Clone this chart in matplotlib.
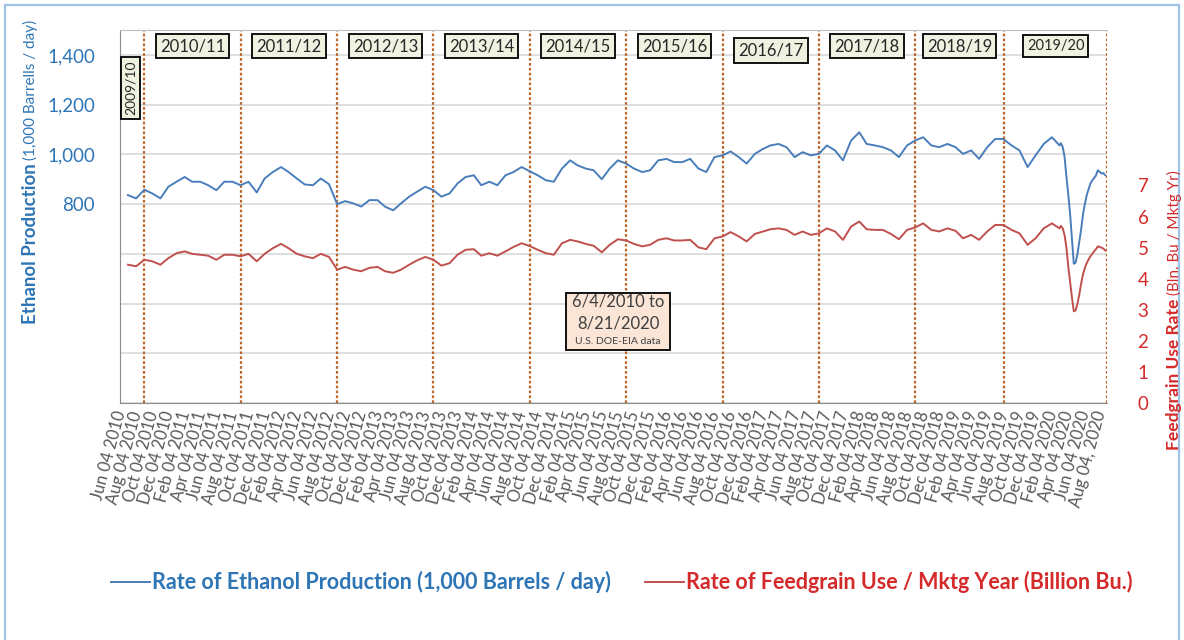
# Ethanol production vs feedgrain use rate, weekly EIA data 2010-2020

import numpy as np
import pandas as pd
import matplotlib
matplotlib.use('Agg')
import matplotlib.pyplot as plt
from matplotlib.patches import Rectangle

plt.rcParams['font.family'] = ['Lato', 'DejaVu Sans']

# monthly readings Jun 2010 .. Feb 2020
ethanol_monthly = [
    836, 823, 858, 843, 823, 870, 890,                                 # 2010 Jun-Dec
    909, 890, 890, 876, 856, 890, 890, 876, 890, 847, 903, 929,        # 2011
    949, 929, 903, 879, 876, 903, 880, 800, 812, 803, 790, 816,        # 2012
    816, 790, 775, 803, 830, 850, 870, 856, 830, 843, 883, 909,        # 2013
    916, 876, 890, 876, 916, 929, 949, 932, 916, 896, 890, 943,        # 2014
    976, 956, 943, 936, 900, 943, 976, 963, 943, 929, 936, 976,        # 2015
    982, 969, 969, 982, 943, 929, 989, 996, 1012, 989, 963, 1002,      # 2016
    1022, 1036, 1042, 1029, 989, 1009, 996, 1002, 1036, 1016, 976, 1056,  # 2017
    1089, 1042, 1036, 1029, 1016, 989, 1036, 1056, 1069, 1036, 1029, 1042,  # 2018
    1029, 1002, 1016, 982, 1029, 1062, 1062, 1036, 1016, 949, 996, 1042,    # 2019
    1069, 1036,                                                        # 2020 Jan-Feb
]
feedgrain_monthly = [
    4.45, 4.40, 4.61, 4.56, 4.45, 4.66, 4.82,
    4.88, 4.80, 4.77, 4.74, 4.61, 4.77, 4.77, 4.72, 4.80, 4.56, 4.80, 4.98,
    5.12, 4.98, 4.80, 4.72, 4.66, 4.80, 4.70, 4.29, 4.38, 4.29, 4.24, 4.35,
    4.38, 4.24, 4.19, 4.29, 4.45, 4.59, 4.70, 4.61, 4.42, 4.50, 4.77, 4.93,
    4.95, 4.74, 4.82, 4.74, 4.88, 5.02, 5.14, 5.05, 4.93, 4.82, 4.77, 5.14,
    5.25, 5.20, 5.12, 5.06, 4.85, 5.09, 5.27, 5.23, 5.12, 5.04, 5.09, 5.25,
    5.30, 5.23, 5.23, 5.25, 5.01, 4.95, 5.30, 5.36, 5.50, 5.36, 5.20, 5.44,
    5.52, 5.59, 5.62, 5.57, 5.41, 5.52, 5.41, 5.46, 5.62, 5.52, 5.25, 5.68,
    5.84, 5.59, 5.57, 5.57, 5.44, 5.27, 5.57, 5.65, 5.78, 5.57, 5.52, 5.62,
    5.54, 5.30, 5.41, 5.25, 5.52, 5.73, 5.73, 5.57, 5.46, 5.09, 5.30, 5.62,
    5.78, 5.62,
]
# weekly readings through the 2020 drop, Mar 6 .. Aug 21 2020
ethanol_2020 = [1045, 1030, 990, 910, 840, 760, 660, 560, 565, 600, 650, 700, 760,
                800, 836, 860, 883, 895, 905, 915, 936, 930, 923, 925, 916]
feedgrain_2020 = [5.70, 5.62, 5.40, 5.00, 4.40, 3.90, 3.40, 2.95, 2.98, 3.20, 3.50, 3.85, 4.15,
                  4.35, 4.50, 4.62, 4.72, 4.80, 4.88, 4.95, 5.04, 5.02, 5.00, 4.97, 4.91]

monthly_dates = pd.date_range('2010-06-04', periods=len(ethanol_monthly), freq='MS')
monthly_dates = monthly_dates.where(monthly_dates > pd.Timestamp('2010-06-04'), pd.Timestamp('2010-06-04'))
weekly_dates = pd.date_range('2020-03-06', '2020-08-21', freq='7D')
dates = monthly_dates.append(weekly_dates)
ethanol = np.array(ethanol_monthly + ethanol_2020)
feedgrain = np.array(feedgrain_monthly + feedgrain_2020)

# marketing year boundaries and labels
year_starts = pd.to_datetime(['2010-09-01', '2011-09-01', '2012-09-01', '2013-09-01', '2014-09-01',
                              '2015-09-01', '2016-09-01', '2017-09-01', '2018-09-01', '2019-08-04',
                              '2020-08-28'])
year_labels = ['2010/11', '2011/12', '2012/13', '2013/14', '2014/15',
               '2015/16', '2016/17', '2017/18', '2018/19', '2019/20']

left_ticks = [0, 200, 400, 600, 800, 1000, 1200, 1400]
left_labels = ['', '', '', '', '800', '1,000', '1,200', '1,400']
right_ticks = [0, 1, 2, 3, 4, 5, 6, 7]

blue = '#4a7ebb'
red = '#c0504d'
blue_txt = '#2e75b6'
red_txt = '#d42a2a'
brown = '#c0652a'

fig = plt.figure(figsize=(11.84, 6.4), dpi=100)
ax = fig.add_axes([0.1014, 0.3703, 0.8336, 0.5827])
ax2 = ax.twinx()

l1, = ax.plot(dates, ethanol, color=blue, lw=1.4, zorder=4)
l2, = ax2.plot(dates, feedgrain, color=red, lw=1.4, zorder=4)

for d in year_starts:
    ax.axvline(d, color=brown, ls=(0, (1.2, 1.0)), lw=1.6, zorder=2)

ax.set_xlim(pd.Timestamp('2010-06-01'), year_starts[-1])
ax.set_ylim(0, 1500)
ax2.set_ylim(0, 12)

ax.set_yticks(left_ticks)
ax.set_yticklabels(left_labels)
ax.tick_params(axis='y', length=0, labelsize=13.5, labelcolor=blue_txt, pad=18)
ax2.set_yticks(right_ticks)
ax2.tick_params(axis='y', length=0, labelsize=13.5, labelcolor=red_txt, pad=22)
ax.yaxis.grid(True, color='#d9d9d9', lw=1.2)
ax.set_axisbelow(True)

xticks = pd.date_range('2010-06-04', '2020-08-04', freq=pd.DateOffset(months=2))
xlabels = [d.strftime('%b %d %Y') for d in xticks]
xlabels[-1] = 'Aug 04, 2020'
ax.set_xticks(xticks)
ax.set_xticklabels(xlabels, rotation=75, ha='right', va='center', rotation_mode='anchor')
ax.tick_params(axis='x', length=0, labelsize=12, labelcolor='#595959', pad=6)

for s in ['left', 'bottom']:
    ax.spines[s].set_color('#8c8c8c')
ax.spines['top'].set_color('#bfbfbf')
for a in (ax, ax2):
    a.spines['right'].set_visible(False)
ax2.spines['left'].set_visible(False)
ax2.spines['top'].set_visible(False)
ax2.spines['bottom'].set_visible(False)

# marketing year boxes
box = dict(boxstyle='square,pad=0.25', fc='#eef2e0', ec='black', lw=1.3)
for i, lab in enumerate(year_labels):
    mid = year_starts[i] + (year_starts[i + 1] - year_starts[i]) / 2
    fs = 10.5 if lab == '2019/20' else 12
    yy = 0.945 if lab == '2016/17' else 0.957
    ax.text(mid, yy, lab, transform=ax.get_xaxis_transform(), ha='center', va='center',
            fontsize=fs, color='#262626', bbox=box, zorder=6)
ax.text(0.0105, 0.845, '2009/10', transform=ax.transAxes, rotation=90, ha='center', va='center',
        fontsize=10, color='#262626', bbox=box, zorder=6)

# data range note
ax.add_patch(Rectangle((0.452, 0.142), 0.105, 0.153, transform=ax.transAxes,
                       fc='#fbe5d6', ec='black', lw=1.3, zorder=6))
ax.text(0.5046, 0.272, '6/4/2010 to', transform=ax.transAxes, ha='center', va='center',
        fontsize=12, color='#404040', zorder=7)
ax.text(0.5046, 0.214, '8/21/2020', transform=ax.transAxes, ha='center', va='center',
        fontsize=12, color='#404040', zorder=7)
ax.text(0.5046, 0.165, 'U.S. DOE-EIA data', transform=ax.transAxes, ha='center', va='center',
        fontsize=7.5, color='#404040', zorder=7)

# axis titles, two styles each
fig.text(0.026, 0.745, 'Ethanol Production', rotation=90, ha='center', va='top',
         fontsize=13.5, fontweight='bold', color=blue_txt)
fig.text(0.026, 0.750, '(1,000 Barrells / day)', rotation=90, ha='center', va='bottom',
         fontsize=11, color=blue_txt)
fig.text(0.9916, 0.534, 'Feedgrain Use Rate', rotation=90, ha='center', va='top',
         fontsize=12.5, fontweight='bold', color=red_txt)
fig.text(0.9916, 0.539, '(Bln. Bu / Mktg Yr)', rotation=90, ha='center', va='bottom',
         fontsize=11, color=red_txt)

leg = fig.legend([l1, l2], ['Rate of Ethanol Production (1,000 Barrels / day)',
                            'Rate of Feedgrain Use / Mktg Year (Billion Bu.)'],
                 loc='center', bbox_to_anchor=(0.525, 0.09), ncol=2, frameon=False,
                 prop={'size': 15.5, 'weight': 'bold'}, handlelength=1.8, handletextpad=0.1,
                 columnspacing=1.6)
for t, c in zip(leg.get_texts(), [blue_txt, red_txt]):
    t.set_color(c)

fig.patches.append(Rectangle((0.004, -0.01), 0.992, 1.002, transform=fig.transFigure,
                             fill=False, ec='#9dc3e6', lw=1.6))

fig.savefig('out.png', dpi=100)
